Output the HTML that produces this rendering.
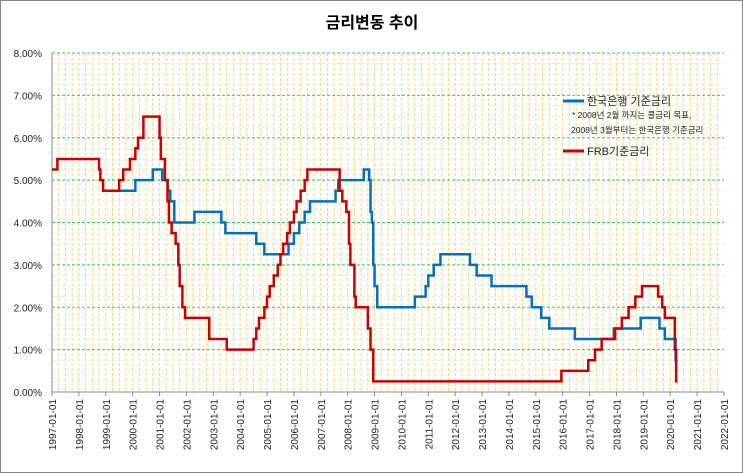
<!DOCTYPE html>
<html><head><meta charset="utf-8"><style>
html,body{margin:0;padding:0;background:#fff}
svg{display:block;font-family:"Liberation Sans","Noto Sans CJK KR",sans-serif}
</style></head><body>
<svg id="chart" width="743" height="473" viewBox="0 0 743 473" xmlns="http://www.w3.org/2000/svg">
<rect x="0.5" y="0.5" width="742" height="472" fill="#fff" stroke="#888"/>
<text x="372" y="28" text-anchor="middle" font-size="16" font-weight="bold" fill="#000">금리변동 추이</text>
<g id="grid"></g>
<g id="axes"></g>
<g id="series"></g>
<g>
<line x1="563" y1="101" x2="584" y2="101" stroke="#0070C0" stroke-width="3"/>
<text x="587" y="105" font-size="11" fill="#222">한국은행 기준금리</text>
<text x="572" y="118" font-size="8.5" fill="#222">* 2008년 2월 까지는 콜금리 목표,</text>
<text x="571" y="133" font-size="8.5" fill="#222">2008년 3월부터는 한국은행 기준금리</text>
<line x1="563" y1="151" x2="584" y2="151" stroke="#CC0000" stroke-width="3"/>
<text x="587" y="155" font-size="11" fill="#222">FRB기준금리</text>
</g>
</svg>
<script>
const yTicks = [0,1,2,3,4,5,6,7,8];
const yearTicks = [1997,1998,1999,2000,2001,2002,2003,2004,2005,2006,2007,2008,2009,2010,2011,2012,2013,2014,2015,2016,2017,2018,2019,2020,2021,2022];
const frbDates = [1997.0,1997.2,1998.75,1998.8,1998.9,1999.5,1999.65,1999.9,2000.1,2000.2,2000.4,2001.0,2001.05,2001.2,2001.3,2001.35,2001.45,2001.6,2001.7,2001.75,2001.85,2001.95,2002.85,2003.5,2004.5,2004.6,2004.7,2004.9,2005.0,2005.1,2005.25,2005.4,2005.5,2005.6,2005.75,2005.85,2006.0,2006.1,2006.25,2006.4,2006.5,2007.7,2007.8,2007.95,2008.05,2008.1,2008.25,2008.3,2008.75,2008.85,2008.95,2015.95,2016.95,2017.2,2017.45,2017.95,2018.2,2018.45,2018.7,2018.95,2019.55,2019.7,2019.8,2020.17,2020.22,2020.27];
const frbValues = [5.25,5.5,5.25,5.0,4.75,5.0,5.25,5.5,5.75,6.0,6.5,6.0,5.5,5.0,4.5,4.0,3.75,3.5,3.0,2.5,2.0,1.75,1.25,1.0,1.25,1.5,1.75,2.0,2.25,2.5,2.75,3.0,3.25,3.5,3.75,4.0,4.25,4.5,4.75,5.0,5.25,4.75,4.5,4.25,3.5,3.0,2.25,2.0,1.5,1.0,0.25,0.5,0.75,1.0,1.25,1.5,1.75,2.0,2.25,2.5,2.25,2.0,1.75,1.0,0.25,0.25];
const korDates = [1999.5,2000.1,2000.75,2001.1,2001.3,2001.4,2001.55,2002.3,2003.3,2003.45,2004.6,2004.9,2005.8,2006.0,2006.2,2006.4,2006.6,2007.55,2007.65,2008.6,2008.8,2008.85,2008.9,2008.95,2009.0,2009.1,2010.5,2010.9,2011.0,2011.2,2011.45,2012.55,2012.8,2013.35,2014.65,2014.85,2015.2,2015.5,2016.45,2017.9,2018.9,2019.6,2019.8,2020.2,2020.27];
const korValues = [4.75,5.0,5.25,5.0,4.75,4.5,4.0,4.25,4.0,3.75,3.5,3.25,3.5,3.75,4.0,4.25,4.5,4.75,5.0,5.25,5.0,4.25,4.0,3.0,2.5,2.0,2.25,2.5,2.75,3.0,3.25,3.0,2.75,2.5,2.25,2.0,1.75,1.5,1.25,1.5,1.75,1.5,1.25,0.75,0.75];

const X0=52, X1=724, Y0=392, Y1=53;
const xS = t => X0 + (t-1997)/(2022-1997)*(X1-X0);
const yS = v => Y0 - v/8*(Y0-Y1);
const NS="http://www.w3.org/2000/svg";
function mk(tag, attrs, parent){const e=document.createElementNS(NS,tag);for(const k in attrs)e.setAttribute(k,attrs[k]);parent.appendChild(e);return e;}
const grid=document.getElementById('grid'), axes=document.getElementById('axes'), series=document.getElementById('series');
for(let i=1;i<(2022-1997)*4;i++){
  const x=xS(1997+i/4);
  const l=mk('line',{x1:x,y1:Y1,x2:x,y2:Y0,stroke:'#F7D670','stroke-width':1,'stroke-dasharray':'3,2'},grid);
  
  
}
for(let k=1;k<32;k++){
  if(k%4===0) continue;
  const v=k/4;
  const l=mk('line',{x1:X0,y1:yS(v),x2:X1,y2:yS(v),stroke:'#DDEFD0','stroke-width':1,'stroke-dasharray':'3,2'},grid);
  
  
}
yTicks.forEach(v=>{
  if(v>0){
    const l=mk('line',{x1:X0,y1:yS(v),x2:X1,y2:yS(v),stroke:'#33CC66','stroke-width':1,'stroke-dasharray':'3,2'},grid);
    
    
  }
  const t=mk('text',{x:42,y:yS(v)+4,'text-anchor':'end','font-size':10,fill:'#222'},axes);
  t.textContent=v.toFixed(2)+'%';
  
  
});
const ax=mk('line',{x1:X0,y1:Y1,x2:X0,y2:Y0,stroke:'#888','stroke-width':1},axes);


const bx=mk('line',{x1:X0,y1:Y0,x2:X1,y2:Y0,stroke:'#888','stroke-width':1},axes);


yearTicks.forEach(yr=>{
  const x=xS(yr);
  const tk=mk('line',{x1:x,y1:Y0,x2:x,y2:Y0+4,stroke:'#888'},axes);
  
  
  const t=mk('text',{x:0,y:0,'text-anchor':'end','font-size':10,fill:'#222',transform:`translate(${x+4},${Y0+7}) rotate(-90)`},axes);
  t.textContent=yr+'-01-01';
  
  
});
function stepPath(d,v){
  let p=`M${xS(d[0])},${yS(v[0])}`;
  for(let i=1;i<d.length;i++){p+=` H${xS(d[i])} V${yS(v[i])}`;}
  return p;
}
const kp=mk('path',{d:stepPath(korDates,korValues),fill:'none',stroke:'#0070C0','stroke-width':2.5,'stroke-linejoin':'miter'},series);


const fp=mk('path',{d:stepPath(frbDates,frbValues),fill:'none',stroke:'#CC0000','stroke-width':2.5,'stroke-linejoin':'miter'},series);


</script>
</body></html>
